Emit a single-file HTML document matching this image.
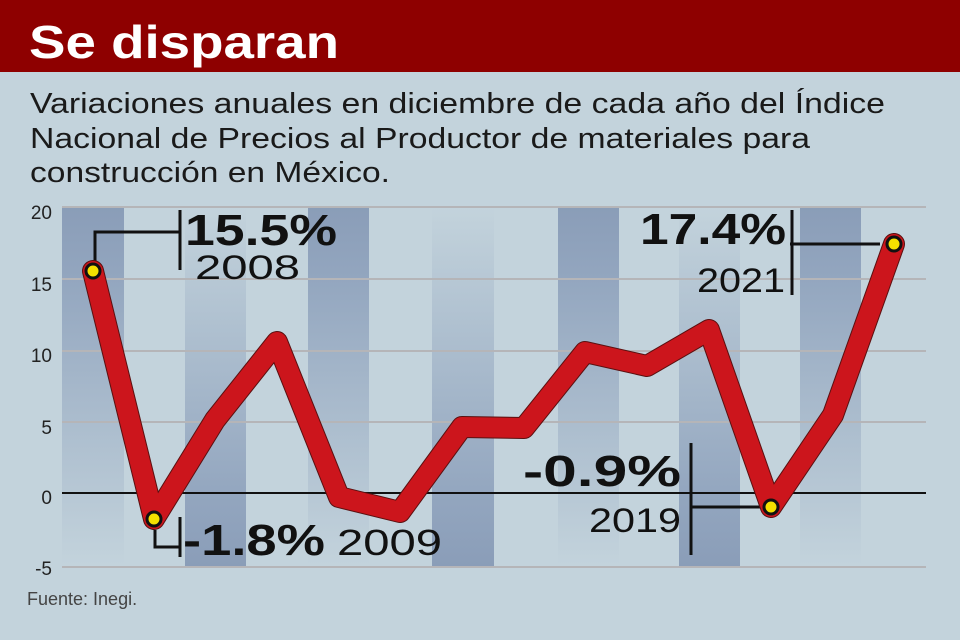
<!DOCTYPE html>
<html><head><meta charset="utf-8"><style>
html,body{margin:0;padding:0;background:#c3d3dc;}
svg{display:block;font-family:"Liberation Sans",sans-serif;}
</style></head><body>
<svg width="960" height="640" viewBox="0 0 960 640">
<defs>
<linearGradient id="gt" x1="0" y1="0" x2="0" y2="1">
<stop offset="0" stop-color="#8a9db8"/><stop offset="0.2" stop-color="#93a6bf"/><stop offset="1" stop-color="#c3d3dc"/></linearGradient>
<linearGradient id="gb" x1="0" y1="1" x2="0" y2="0">
<stop offset="0" stop-color="#8a9db8"/><stop offset="0.2" stop-color="#93a6bf"/><stop offset="1" stop-color="#c3d3dc"/></linearGradient>
</defs>
<rect width="960" height="640" fill="#c3d3dc"/>
<rect width="960" height="72" fill="#8e0000"/>
<g lengthAdjust="spacingAndGlyphs">
<text x="29" y="58" font-size="46" font-weight="bold" fill="#fff" textLength="310" lengthAdjust="spacingAndGlyphs">Se disparan</text>
<g font-size="29" fill="#1a1a1a">
<text x="30" y="113" textLength="855" lengthAdjust="spacingAndGlyphs">Variaciones anuales en diciembre de cada año del Índice</text>
<text x="30" y="148" textLength="780" lengthAdjust="spacingAndGlyphs">Nacional de Precios al Productor de materiales para</text>
<text x="30" y="182" textLength="360" lengthAdjust="spacingAndGlyphs">construcción en México.</text>
</g>
</g>
<rect x="62" y="207" width="62" height="358" fill="url(#gt)"/>
<rect x="185" y="207" width="61" height="360" fill="url(#gb)"/>
<rect x="308" y="207" width="61" height="358" fill="url(#gt)"/>
<rect x="432" y="207" width="62" height="360" fill="url(#gb)"/>
<rect x="558" y="207" width="61" height="358" fill="url(#gt)"/>
<rect x="679" y="207" width="61" height="360" fill="url(#gb)"/>
<rect x="800" y="207" width="61" height="358" fill="url(#gt)"/>
<g stroke="#b5b5b8" stroke-width="2">
<line x1="62" y1="207" x2="926" y2="207"/>
<line x1="62" y1="279" x2="926" y2="279"/>
<line x1="62" y1="351" x2="926" y2="351"/>
<line x1="62" y1="422" x2="926" y2="422"/>
<line x1="62" y1="567" x2="926" y2="567"/>
</g>
<line x1="62" y1="493" x2="926" y2="493" stroke="#111" stroke-width="2"/>
<g font-size="19" fill="#222" text-anchor="end">
<text x="52" y="219">20</text><text x="52" y="291">15</text><text x="52" y="362">10</text>
<text x="52" y="434">5</text><text x="52" y="504">0</text><text x="52" y="575">-5</text>
</g>
<g stroke="#111" stroke-width="3" fill="none">
<polyline points="95,262 95,232 180,232"/><line x1="180" y1="210" x2="180" y2="270"/>
<polyline points="155,530 155,547 180,547"/><line x1="180" y1="517" x2="180" y2="557"/>
<polyline points="790,244 880,244"/><line x1="792" y1="210" x2="792" y2="295"/>
<polyline points="690,507 765,507"/><line x1="691" y1="443" x2="691" y2="555"/>
</g>
<polyline points="93,271 154,519 215,420 277,342 339,497 400,512 462,427 524,428 585,352 647,366 709,330 771,507 833,415 894,244" fill="none" stroke="#5a1010" stroke-width="22" stroke-linejoin="round" stroke-linecap="round"/>
<polyline points="93,271 154,519 215,420 277,342 339,497 400,512 462,427 524,428 585,352 647,366 709,330 771,507 833,415 894,244" fill="none" stroke="#cc151c" stroke-width="20" stroke-linejoin="round" stroke-linecap="round"/>
<g fill="#f5e000" stroke="#111" stroke-width="3">
<circle cx="93" cy="271" r="7"/><circle cx="154" cy="519" r="7"/><circle cx="771" cy="507" r="7"/><circle cx="894" cy="244" r="7"/>
</g>
<g fill="#111">
<text x="185" y="245" font-size="44" font-weight="bold" textLength="152" lengthAdjust="spacingAndGlyphs">15.5%</text>
<text x="195" y="279" font-size="34" textLength="105" lengthAdjust="spacingAndGlyphs">2008</text>
<text x="183" y="555" font-size="44" font-weight="bold" textLength="142" lengthAdjust="spacingAndGlyphs">-1.8%</text>
<text x="337" y="555" font-size="36" textLength="105" lengthAdjust="spacingAndGlyphs">2009</text>
<text x="640" y="244" font-size="44" font-weight="bold" textLength="146" lengthAdjust="spacingAndGlyphs">17.4%</text>
<text x="697" y="292" font-size="34" textLength="88" lengthAdjust="spacingAndGlyphs">2021</text>
<text x="523" y="486" font-size="44" font-weight="bold" textLength="158" lengthAdjust="spacingAndGlyphs">-0.9%</text>
<text x="589" y="532" font-size="34" textLength="92" lengthAdjust="spacingAndGlyphs">2019</text>
</g>
<text x="27" y="605" font-size="18" fill="#444">Fuente: Inegi.</text>
</svg>
</body></html>
